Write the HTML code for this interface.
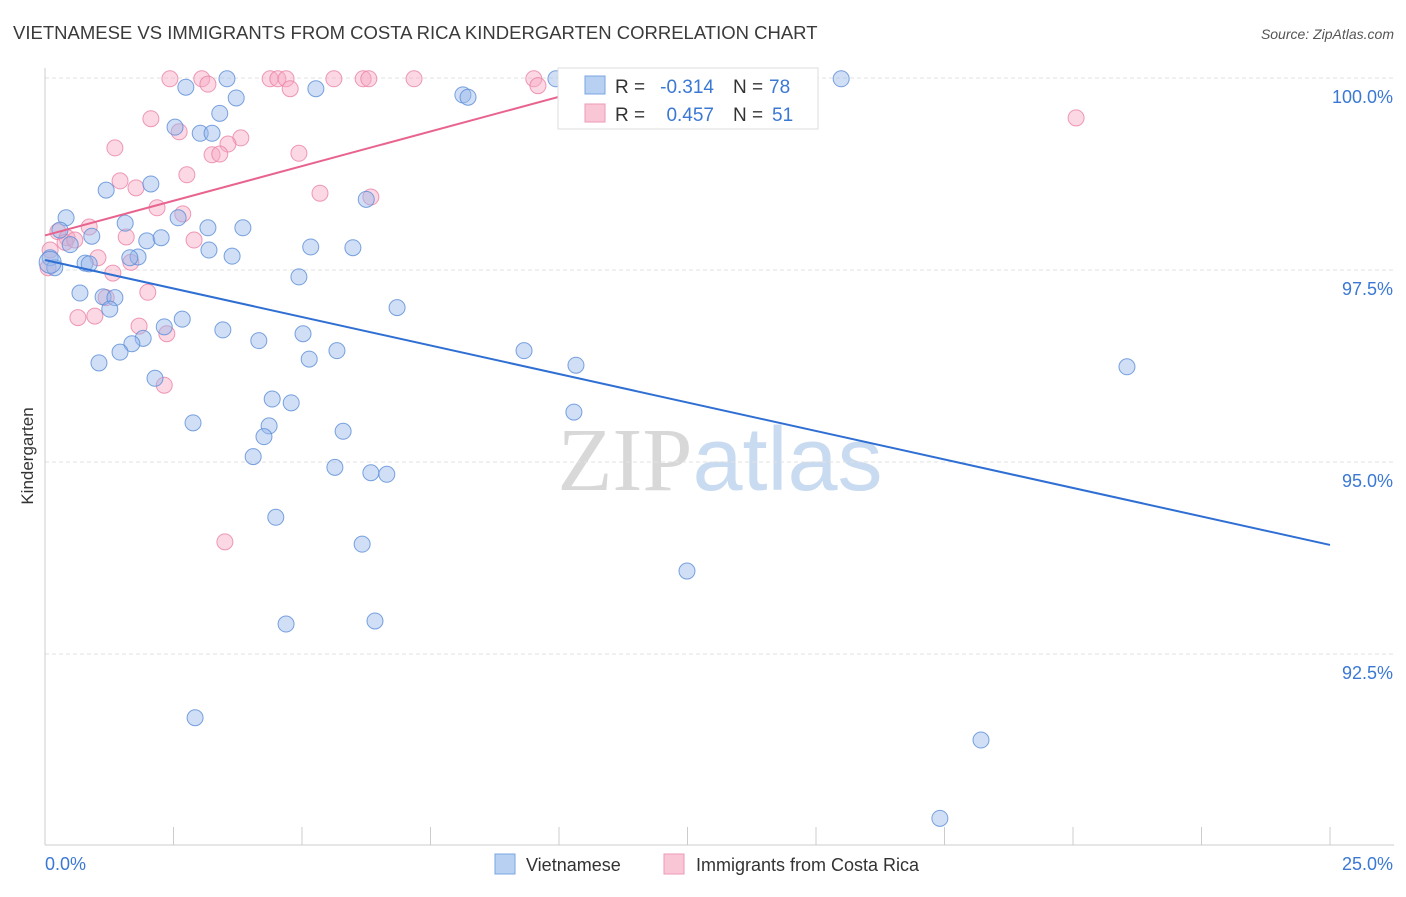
<!DOCTYPE html>
<html><head><meta charset="utf-8"><style>
body{margin:0;background:#fff;width:1406px;height:892px;overflow:hidden;font-family:"Liberation Sans",sans-serif}
svg text{font-family:"Liberation Sans",sans-serif}
</style></head><body>
<svg id="chart" width="1406" height="892" xmlns="http://www.w3.org/2000/svg">
<text x="13" y="39" font-size="18.5" fill="#3a3a3a">VIETNAMESE VS IMMIGRANTS FROM COSTA RICA KINDERGARTEN CORRELATION CHART</text>
<text x="1394" y="39" font-size="14" fill="#555" font-style="italic" text-anchor="end">Source: ZipAtlas.com</text>
<text x="720" y="490" font-size="90" text-anchor="middle"><tspan fill="#d8d8d8" font-family="Liberation Serif">ZIP</tspan><tspan fill="#c9dbf0">atlas</tspan></text>
<g id="grid"></g><g id="axes"></g>
<g id="pink"></g><g id="blue"></g><g id="lines"></g>
<text transform="translate(33,456) rotate(-90)" font-size="17" fill="#333" text-anchor="middle">Kindergarten</text>
<g>
<rect x="558" y="68" width="260" height="61" fill="#fff" stroke="#ddd"/>
<rect x="585" y="76" width="20" height="18" fill="#b8d0f2" stroke="#7aa6e0"/>
<rect x="585" y="104" width="20" height="18" fill="#f9c6d6" stroke="#ee9ab6"/>
<text x="615" y="93" font-size="19" fill="#333">R =</text>
<text x="714" y="93" font-size="19" fill="#3a78d4" text-anchor="end">-0.314</text>
<text x="733" y="93" font-size="19" fill="#333">N =</text>
<text x="769" y="93" font-size="19" fill="#3a78d4">78</text>
<text x="615" y="121" font-size="19" fill="#333">R =</text>
<text x="714" y="121" font-size="19" fill="#3a78d4" text-anchor="end">0.457</text>
<text x="733" y="121" font-size="19" fill="#333">N =</text>
<text x="772" y="121" font-size="19" fill="#3a78d4">51</text>
</g>
<g>
<rect x="495" y="854" width="20" height="20" fill="#b8d0f2" stroke="#7aa6e0"/>
<text x="526" y="871" font-size="18" fill="#333">Vietnamese</text>
<rect x="664" y="854" width="20" height="20" fill="#f9c6d6" stroke="#ee9ab6"/>
<text x="696" y="871" font-size="18" fill="#333">Immigrants from Costa Rica</text>
</g>
</svg>
<script>
const yTicks=[100,97.5,95,92.5];
const yTickLabels=["100.0%","97.5%","95.0%","92.5%"];
const xLabels=["0.0%","25.0%"];
const blueX=[15.49,9.94,3.54,2.74,5.27,3.72,8.13,8.23,3.40,2.53,3.02,3.25,1.19,2.06,6.25,0.41,2.59,1.56,3.17,3.85,0.29,0.91,0.49,1.98,2.26,5.17,5.99,3.19,3.64,0.10,1.81,1.65,0.78,0.86,0.19,4.94,0.68,1.13,1.36,1.26,6.85,2.67,2.32,3.46,5.02,1.91,1.69,4.16,1.46,1.05,5.14,5.68,9.32,10.33,21.05,2.14,4.42,4.79,10.29,2.88,4.36,5.80,4.26,4.05,5.64,6.34,6.65,4.49,6.17,12.49,6.42,4.69,2.92,18.21,17.41,0.10];
const blueY=[99.99,99.99,99.99,99.88,99.86,99.74,99.78,99.75,99.54,99.36,99.28,99.28,98.54,98.62,98.42,98.18,98.18,98.11,98.05,98.05,98.02,97.94,97.83,97.88,97.92,97.80,97.79,97.76,97.68,97.66,97.67,97.66,97.59,97.58,97.53,97.41,97.20,97.15,97.14,96.99,97.01,96.86,96.76,96.72,96.67,96.61,96.54,96.58,96.43,96.29,96.34,96.45,96.45,96.26,96.24,96.09,95.82,95.77,95.65,95.51,95.47,95.40,95.33,95.07,94.93,94.86,94.84,94.28,93.93,93.58,92.93,92.89,91.67,91.38,90.36,97.60];
const pinkX=[2.43,3.05,3.17,4.38,4.53,4.69,5.62,6.19,6.30,7.18,9.51,9.59,4.77,20.06,2.06,2.61,3.81,3.56,3.25,3.40,1.36,4.94,2.76,1.46,1.77,5.35,6.34,2.18,2.68,0.86,0.25,0.43,1.58,2.90,1.03,1.67,1.32,2.00,1.19,0.97,0.64,1.83,2.37,2.32,3.50,0.06,0.10,0.39,0.58];
const pinkY=[99.99,99.99,99.92,99.99,99.99,99.99,99.99,99.99,99.99,99.99,99.99,99.90,99.86,99.48,99.47,99.30,99.22,99.14,99.00,99.01,99.09,99.02,98.74,98.66,98.57,98.50,98.45,98.31,98.23,98.06,98.00,97.92,97.93,97.89,97.66,97.60,97.46,97.21,97.14,96.90,96.88,96.77,96.67,96.00,93.96,97.53,97.76,97.86,97.89];
const blueTrend=[0,97.63,25,93.92];
const pinkTrend=[0,97.95,10.8,99.9];
const X=v=>45+v/25*1285, Y=v=>78+(100-v)/2.5*192;
const NS="http://www.w3.org/2000/svg";
function mk(p,t,a){const e=document.createElementNS(NS,t);for(const k in a)e.setAttribute(k,a[k]);document.getElementById(p).appendChild(e);return e;}
yTicks.forEach((t,i)=>{
 const g=mk('grid','line',{x1:45,x2:1394,y1:Y(t),y2:Y(t),stroke:'#e2e2e2','stroke-dasharray':'4,3'});
 
 
 const l=mk('grid','text',{x:1393,y:Y(t)+25,'font-size':18,fill:'#3a78d4','text-anchor':'end'});
 l.textContent=yTickLabels[i];
 
 
});
mk('axes','line',{x1:45,x2:45,y1:68,y2:845,stroke:'#ccc'});
mk('axes','line',{x1:45,x2:1394,y1:845,y2:845,stroke:'#ccc'});
for(let i=0;i<=10;i++){const t=mk('axes','line',{x1:X(i*2.5),x2:X(i*2.5),y1:827,y2:845,stroke:'#ccc'});
 
 }
const xl0=mk('axes','text',{x:45,y:870,'font-size':18,fill:'#3a78d4'});xl0.textContent=xLabels[0];


const xl1=mk('axes','text',{x:1393,y:870,'font-size':18,fill:'#3a78d4','text-anchor':'end'});xl1.textContent=xLabels[1];


pinkX.forEach((v,i)=>{const c=mk('pink','circle',{cx:X(v),cy:Y(pinkY[i]),r:8,fill:'rgba(246,168,196,0.45)',stroke:'rgba(234,130,166,0.8)','stroke-width':1});
 
 });
blueX.forEach((v,i)=>{const c=mk('blue','circle',{cx:X(v),cy:Y(blueY[i]),r:i==blueX.length-1?11:8,fill:'rgba(150,185,235,0.45)',stroke:'rgba(90,140,215,0.8)','stroke-width':1});
 
 });
const bl=mk('lines','line',{x1:X(blueTrend[0]),y1:Y(blueTrend[1]),x2:X(blueTrend[2]),y2:Y(blueTrend[3]),stroke:'#2f6fd3','stroke-width':2});


const pl=mk('lines','line',{x1:X(pinkTrend[0]),y1:Y(pinkTrend[1]),x2:X(pinkTrend[2]),y2:Y(pinkTrend[3]),stroke:'#e8648e','stroke-width':2});


</script>
</body></html>
